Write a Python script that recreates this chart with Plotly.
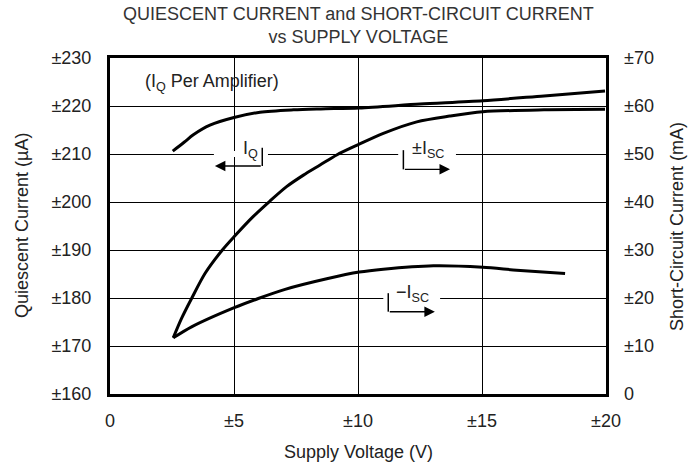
import plotly.graph_objects as go

# ---- data ----
x_iq = [2.53, 3.0, 3.36, 4.03, 5.0, 6.05, 7.4, 8.5, 10.05, 12.5, 15.03, 17.5, 19.96]
iq_uA = [210.6, 212.5, 214.0, 216.0, 217.6, 218.7, 219.2, 219.4, 219.6, 220.4, 221.1, 222.1, 223.1]

x_isc_pos = [2.55, 2.89, 3.29, 3.83, 4.53, 5.01, 5.78, 6.45, 7.12, 7.8, 8.47, 9.14, 9.99, 11.02, 12.37, 13.7, 15.03, 17.5, 19.96]
isc_pos_mA = [11.7, 15.8, 19.9, 25.1, 30.0, 32.8, 37.0, 40.2, 43.2, 45.6, 47.7, 49.8, 51.9, 54.3, 56.7, 57.9, 58.8, 59.2, 59.3]

x_isc_neg = [2.55, 3.29, 5.01, 5.98, 7.06, 8.74, 10.05, 11.02, 13.04, 15.03, 16.4, 18.35]
isc_neg_mA = [11.7, 14.0, 18.0, 19.9, 21.8, 24.0, 25.4, 26.0, 26.7, 26.4, 25.8, 25.1]

x_ticks = [0, 5, 10, 15, 20]
x_ticklabels = ["0", "±5", "±10", "±15", "±20"]
left_ticks = [160, 170, 180, 190, 200, 210, 220, 230]
left_ticklabels = ["±160", "±170", "±180", "±190", "±200", "±210", "±220", "±230"]
right_ticks = [0, 10, 20, 30, 40, 50, 60, 70]
right_ticklabels = ["0", "±10", "±20", "±30", "±40", "±50", "±60", "±70"]

FONT = "Liberation Sans, Arial, Helvetica, sans-serif"
TXT = "#222222"

fig = go.Figure()
line = dict(color="black", width=3, shape="spline", smoothing=0.8)
fig.add_trace(go.Scatter(x=x_iq, y=iq_uA, mode="lines", line=line, yaxis="y"))
fig.add_trace(go.Scatter(x=x_isc_pos, y=isc_pos_mA, mode="lines", line=line, yaxis="y2"))
fig.add_trace(go.Scatter(x=x_isc_neg, y=isc_neg_mA, mode="lines", line=line, yaxis="y2"))

shapes = []
annotations = []

# label groups: (gap x0, x1, gridline y), text pos, bracket x, bracket y0, y1, arrow tip x
groups = [
    (4.19, 6.37, 210, "I<sub>Q</sub>", 5.65, 211.0, 6.14, 211.3, 207.5, 4.23),
    (11.62, 13.95, 210, "±I<sub>SC</sub>", 12.82, 211.0, 11.83, 210.8, 206.8, 13.71),
    (11.02, 13.31, 180, "−I<sub>SC</sub>", 12.18, 180.9, 11.22, 181.0, 177.15, 13.1),
]
for gx0, gx1, gy, txt, tx, ty, bx, by0, by1, tipx in groups:
    shapes.append(dict(type="rect", xref="x", yref="y", x0=gx0, x1=gx1, y0=gy - 0.6, y1=gy + 0.6,
                       fillcolor="white", line=dict(width=0), layer="between"))
    shapes.append(dict(type="line", xref="x", yref="y", x0=bx, x1=bx, y0=by0, y1=by1,
                       line=dict(color="black", width=1.5), layer="above"))
    annotations.append(dict(x=tipx, y=by1, ax=bx, ay=by1, xref="x", yref="y", axref="x", ayref="y",
                            text="", showarrow=True, arrowhead=2, arrowsize=1.5, arrowwidth=1.4,
                            arrowcolor="black", standoff=0, startstandoff=0))
    annotations.append(dict(x=tx, y=ty, xref="x", yref="y", text=txt, showarrow=False,
                            font=dict(family=FONT, size=18, color=TXT), xanchor="center", yanchor="middle"))

annotations.append(dict(x=4.1, y=224.8, xref="x", yref="y", text="(I<sub>Q</sub> Per Amplifier)",
                        showarrow=False, font=dict(family=FONT, size=18, color=TXT),
                        xanchor="center", yanchor="middle"))

# titles
annotations.append(dict(x=0.5, y=1.1667, xref="paper", yref="paper",
                        text="QUIESCENT CURRENT and SHORT-CIRCUIT CURRENT<br>vs SUPPLY VOLTAGE",
                        showarrow=False, font=dict(family=FONT, size=18, color="#333333"),
                        xanchor="center", yanchor="top"))
annotations.append(dict(x=0.5, y=-0.1726, xref="paper", yref="paper", text="Supply Voltage (V)",
                        showarrow=False, font=dict(family=FONT, size=18, color=TXT),
                        xanchor="center", yanchor="middle"))
annotations.append(dict(x=-0.1774, y=0.5, xref="paper", yref="paper", text="Quiescent Current (µA)",
                        showarrow=False, textangle=-90, font=dict(family=FONT, size=18, color=TXT),
                        xanchor="center", yanchor="middle"))
annotations.append(dict(x=1.1431, y=0.5, xref="paper", yref="paper", text="Short-Circuit Current (mA)",
                        showarrow=False, textangle=-90, font=dict(family=FONT, size=18, color=TXT),
                        xanchor="center", yanchor="middle"))

tickfont = dict(family=FONT, size=18, color=TXT)
fig.update_layout(
    width=688, height=466,
    margin=dict(l=110, r=82, t=58, b=72, pad=0),
    paper_bgcolor="white", plot_bgcolor="white",
    showlegend=False,
    xaxis=dict(range=[0, 20], tickvals=x_ticks, ticktext=x_ticklabels, showgrid=True,
               gridcolor="black", gridwidth=1, showline=True, linecolor="black", linewidth=3,
               mirror=True, ticks="", tickfont=tickfont, ticklabelstandoff=8, zeroline=False,
               fixedrange=True),
    yaxis=dict(range=[160, 230], tickvals=left_ticks, ticktext=left_ticklabels, showgrid=True,
               gridcolor="black", gridwidth=1, showline=True, linecolor="black", linewidth=3,
               mirror=True, ticks="", tickfont=tickfont, ticklabelstandoff=12, zeroline=False,
               fixedrange=True),
    yaxis2=dict(range=[0, 70], tickvals=right_ticks, ticktext=right_ticklabels, overlaying="y",
                side="right", showgrid=False, showline=False, ticks="", tickfont=tickfont,
                ticklabelstandoff=17, zeroline=False, fixedrange=True),
    shapes=shapes, annotations=annotations,
)

# remove the page's default body margin so the 688x466 figure fills the window exactly
fig.write_html("out.html", config={"displayModeBar": False},
               post_script="document.body.style.margin='0px';")
